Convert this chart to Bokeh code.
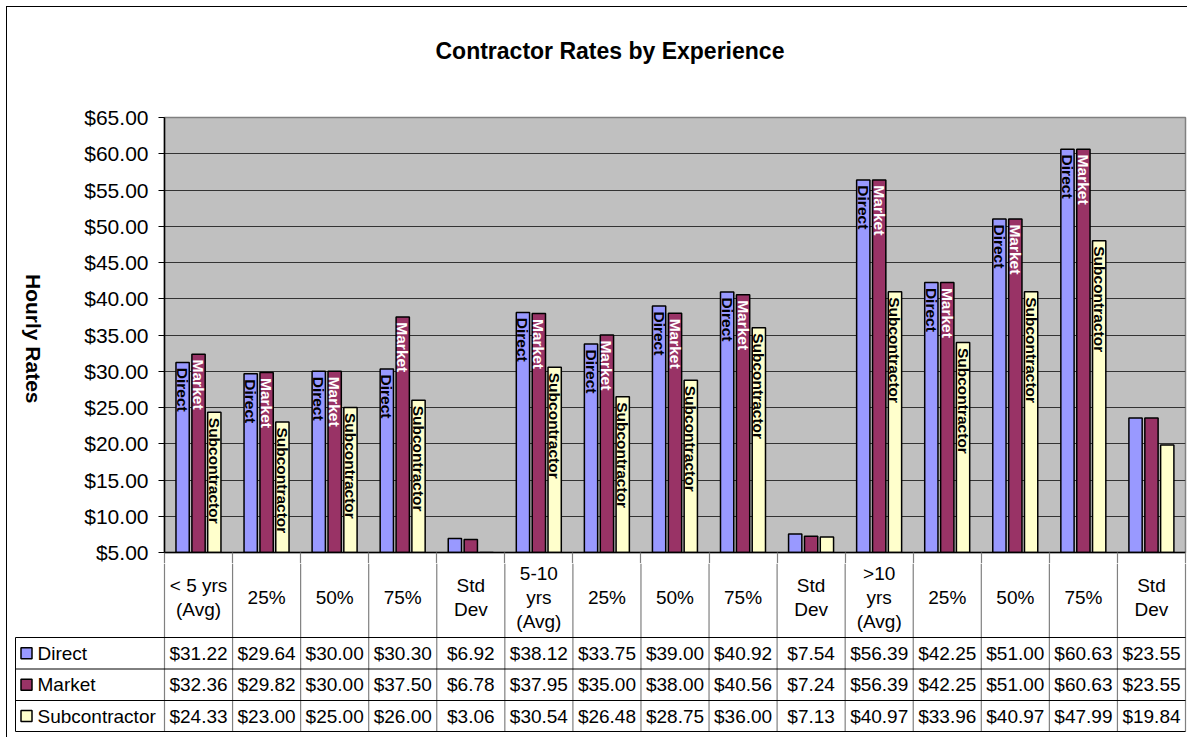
import math
from bokeh.plotting import figure
from bokeh.layouts import column, row
from bokeh.models import Range1d, FixedTicker, NumeralTickFormatter, ColumnDataSource
from bokeh.core.properties import value
from bokeh.embed import file_html
from bokeh.resources import INLINE

# ---------------- data ----------------
categories = ["< 5 yrs\n(Avg)", "25%", "50%", "75%", "Std\nDev",
              "5-10\nyrs\n(Avg)", "25%", "50%", "75%", "Std\nDev",
              ">10\nyrs\n(Avg)", "25%", "50%", "75%", "Std\nDev"]
direct = [31.22, 29.64, 30.00, 30.30, 6.92, 38.12, 33.75, 39.00, 40.92, 7.54,
          56.39, 42.25, 51.00, 60.63, 23.55]
market = [32.36, 29.82, 30.00, 37.50, 6.78, 37.95, 35.00, 38.00, 40.56, 7.24,
          56.39, 42.25, 51.00, 60.63, 23.55]
subcontractor = [24.33, 23.00, 25.00, 26.00, 3.06, 30.54, 26.48, 28.75, 36.00, 7.13,
                 40.97, 33.96, 40.97, 47.99, 19.84]
series_names = ["Direct", "Market", "Subcontractor"]
series_colors = ["#9999FF", "#993366", "#FFFFCC"]
label_colors = ["#000000", "#FFFFFF", "#000000"]
y_ticks = [5, 10, 15, 20, 25, 30, 35, 40, 45, 50, 55, 60, 65]
title_text = "Contractor Rates by Experience"
y_title = "Hourly Rates"

FONT = "Liberation Sans"
N = len(categories)
series = [direct, market, subcontractor]
offsets = [-0.234, 0.0, 0.232]
BAR_W = 0.195
PX = 1021 / 15.0  # pixels per category

common = dict(toolbar_location=None, output_backend="svg")

# ---------------- title strip ----------------
pt = figure(width=1180, height=90, x_range=Range1d(0, 1180), y_range=Range1d(90, 0),
            min_border=0, x_axis_location=None, y_axis_location=None,
            outline_line_color=None, title=None, **common)
pt.grid.visible = False
pt.text(x=[599.5], y=[43], text=[title_text], text_align="center", text_baseline="middle",
        text_font=value(FONT), text_font_style="bold", text_font_size="23px",
        text_color="black")

# ---------------- y-title strip ----------------
pc = figure(width=50, height=466, x_range=Range1d(0, 50), y_range=Range1d(466, 0),
            min_border=0, x_axis_location=None, y_axis_location=None,
            outline_line_color=None, title=None, **common)
pc.grid.visible = False
pc.text(x=[25.5], y=[237], text=[y_title], angle=-math.pi / 2, text_align="center",
        text_baseline="middle", text_font=value(FONT), text_font_style="bold",
        text_font_size="21px", text_color="black")

# ---------------- chart ----------------
pa = figure(width=1130, height=466, x_range=Range1d(0, N), y_range=Range1d(5, 65),
            min_border_left=107, min_border_right=2, min_border_top=20, min_border_bottom=11,
            background_fill_color="#C0C0C0", outline_line_color="#808080",
            outline_line_width=1.5, title=None, **common)

ya = pa.yaxis[0]
ya.ticker = FixedTicker(ticks=y_ticks)
ya.formatter = NumeralTickFormatter(format="$0,0.00")
ya.major_label_text_font = FONT
ya.major_label_text_font_size = "21px"
ya.major_label_text_color = "black"
ya.major_tick_out = 6
ya.major_tick_in = 0
ya.minor_tick_out = 0
ya.minor_tick_in = 0
ya.major_label_standoff = 10
ya.axis_line_color = "black"
ya.axis_line_width = 1.5
ya.major_tick_line_color = "black"

xa = pa.xaxis[0]
xa.ticker = FixedTicker(ticks=list(range(N + 1)))
xa.major_tick_out = 11
xa.major_tick_in = 0
xa.minor_tick_out = 0
xa.minor_tick_in = 0
xa.major_tick_line_color = "#808080"
xa.major_tick_line_width = 1.2
xa.major_label_text_font_size = "1px"
xa.major_label_text_alpha = 0
xa.major_label_standoff = 0
xa.axis_line_color = "black"
xa.axis_line_width = 1.5

pa.xgrid.visible = False
pa.ygrid.ticker = FixedTicker(ticks=y_ticks)
pa.ygrid.grid_line_color = "#333333"
pa.ygrid.grid_line_width = 1

for k in range(3):
    src = ColumnDataSource(dict(x=[i + 0.5 + offsets[k] for i in range(N)], top=series[k]))
    pa.vbar(x="x", top="top", bottom=5, width=BAR_W, source=src,
            fill_color=series_colors[k], line_color="black", line_width=1.5)

idx = [i for i, c in enumerate(categories) if not c.startswith("Std")]
for k in range(3):
    pa.text(x=[i + 0.5 + offsets[k] for i in idx], y=[series[k][i] - 0.75 for i in idx],
            text=[series_names[k]] * len(idx), angle=-math.pi / 2,
            text_align="left", text_baseline="middle",
            text_font=value(FONT), text_font_style="bold", text_font_size="15.5px",
            text_color=label_colors[k])

# ---------------- data table ----------------
pb = figure(width=1180, height=174,
            x_range=Range1d((13 - 164) / PX, (1187 - 164) / PX),
            y_range=Range1d(183, 11),
            min_border_left=6, min_border_right=0, min_border_top=0, min_border_bottom=2,
            x_axis_location=None, y_axis_location=None, outline_line_color=None,
            title=None, **common)
pb.grid.visible = False

leg_left = (15 - 164) / PX
row_lines = [85, 116.5, 148, 179]
row_centers = [100.75, 132.25, 163.5]

# vertical gray cell lines
pb.segment(x0=list(range(N + 1)), y0=[11] * (N + 1), x1=list(range(N + 1)), y1=[179] * (N + 1),
           line_color="#808080", line_width=1.2)
# legend-column left edge
pb.segment(x0=[leg_left], y0=[85], x1=[leg_left], y1=[179], line_color="black", line_width=1)
# horizontal row lines
pb.segment(x0=[leg_left] * 4, y0=row_lines, x1=[N] * 4, y1=row_lines,
           line_color="black", line_width=1)

# header category labels
pb.text(x=[i + 0.5 for i in range(N)], y=[45] * N, text=categories,
        text_align="center", text_baseline="middle", text_font=value(FONT),
        text_font_size="19px", text_color="black", text_line_height=1.15)

# values
for k in range(3):
    pb.text(x=[i + 0.5 for i in range(N)], y=[row_centers[k]] * N,
            text=["$%.2f" % v for v in series[k]],
            text_align="center", text_baseline="middle", text_font=value(FONT),
            text_font_size="19px", text_color="black")

# legend keys
pb.rect(x=[(26 - 164) / PX] * 3, y=row_centers, width=11, height=11,
        width_units="screen", height_units="screen",
        fill_color=series_colors, line_color="black", line_width=1.5)
pb.text(x=[(37 - 164) / PX] * 3, y=row_centers, text=series_names,
        text_align="left", text_baseline="middle", text_font=value(FONT),
        text_font_size="19px", text_color="black")

layout = column(pt, row(pc, pa), pb, margin=(6, 0, 0, 6),
                styles={"border-left": "1px solid #000", "border-top": "1px solid #000"})

open("out.html", "w").write(file_html(layout, INLINE))
